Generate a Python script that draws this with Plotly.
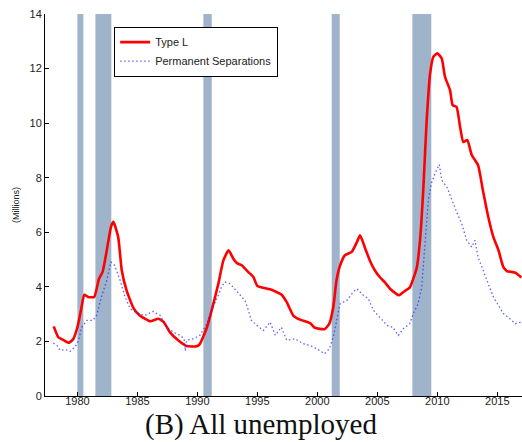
import plotly.graph_objects as go

# Type L (millions), decimal years
type_l_x = [1978.03, 1978.4, 1978.8, 1979.3, 1979.67, 1980.0, 1980.3, 1980.58, 1980.9, 1981.4,
            1981.8, 1982.1, 1982.45, 1982.8, 1983.0, 1983.4, 1983.7, 1984.1, 1984.7, 1985.2,
            1986.06, 1986.75, 1987.2, 1987.7, 1988.4, 1989.1, 1989.95, 1990.2, 1990.8, 1991.3,
            1991.75, 1992.17, 1992.6, 1993.0, 1993.3, 1993.7, 1994.25, 1994.67, 1995.0, 1995.5,
            1996.06, 1996.6, 1997.0, 1997.45, 1998.0, 1998.56, 1999.4, 1999.8, 2000.6, 2001.0,
            2001.33, 2001.6, 2001.9, 2002.3, 2002.87, 2003.3, 2003.56, 2004.0, 2004.4, 2004.8,
            2005.2, 2005.6, 2006.06, 2006.5, 2006.8, 2007.3, 2007.7, 2008.0, 2008.3, 2008.56,
            2008.83, 2009.1, 2009.4, 2009.67, 2010.0, 2010.37, 2010.64, 2011.06, 2011.28, 2011.6,
            2011.9, 2012.17, 2012.5, 2012.87, 2013.4, 2013.8, 2014.25, 2014.67, 2015.1, 2015.5,
            2015.8, 2016.5, 2017.0]
type_l_y = [2.55, 2.16, 2.06, 1.95, 2.10, 2.52, 3.14, 3.71, 3.63, 3.63,
            4.30, 4.55, 5.34, 6.20, 6.38, 5.83, 4.60, 3.87, 3.20, 2.95,
            2.74, 2.83, 2.71, 2.34, 2.04, 1.83, 1.82, 1.90, 2.52, 3.32,
            4.12, 4.97, 5.34, 5.03, 4.87, 4.79, 4.54, 4.36, 4.03, 3.97,
            3.91, 3.81, 3.72, 3.44, 2.95, 2.80, 2.67, 2.50, 2.45, 2.65,
            3.26, 4.24, 4.79, 5.16, 5.28, 5.64, 5.89, 5.40, 4.94, 4.60,
            4.36, 4.18, 3.93, 3.77, 3.69, 3.85, 3.97, 4.30, 4.73, 5.71,
            7.54, 9.99, 11.82, 12.43, 12.56, 12.37, 11.70, 11.21, 10.66, 10.60,
            9.86, 9.31, 9.38, 8.83, 8.46, 7.54, 6.56, 5.83, 5.34, 4.73,
            4.58, 4.52, 4.34]

# Permanent separations (millions)
perm_x = [1978.0, 1978.3, 1978.56, 1979.0, 1979.4, 1979.8, 1980.1, 1980.36, 1980.8, 1981.3,
          1981.6, 1982.0, 1982.45, 1982.8, 1983.1, 1983.56, 1983.97, 1984.4, 1984.95, 1985.6,
          1986.3, 1986.9, 1987.45, 1988.0, 1988.56, 1988.9, 1989.0, 1989.1, 1989.67, 1990.2,
          1990.8, 1991.3, 1991.75, 1992.0, 1992.3, 1992.7, 1993.1, 1993.56, 1993.97, 1994.25,
          1994.5, 1994.95, 1995.5, 1996.06, 1996.5, 1997.0, 1997.45, 1998.1, 1998.8, 1999.4,
          1999.95, 2000.6, 2001.0, 2001.33, 2001.67, 2001.9, 2002.45, 2003.0, 2003.3, 2003.83,
          2004.25, 2004.67, 2005.2, 2005.8, 2006.3, 2006.75, 2007.17, 2007.7, 2008.0, 2008.4,
          2008.7, 2008.9, 2009.06, 2009.25, 2009.5, 2009.8, 2010.17, 2010.37, 2010.8, 2011.2,
          2011.6, 2012.03, 2012.45, 2012.87, 2013.14, 2013.4, 2013.83, 2014.25, 2014.67, 2015.1,
          2015.5, 2015.9, 2016.5, 2017.0]
perm_y = [1.94, 1.85, 1.67, 1.70, 1.64, 1.79, 2.04, 2.52, 2.77, 2.77,
          2.95, 3.63, 4.24, 4.91, 4.79, 4.24, 3.63, 3.20, 3.04, 2.95,
          3.10, 2.95, 2.52, 2.34, 2.22, 2.10, 1.65, 2.04, 2.10, 2.22,
          2.65, 3.26, 3.69, 3.99, 4.18, 4.12, 3.93, 3.69, 3.50, 3.14,
          2.77, 2.59, 2.40, 2.71, 2.22, 2.52, 2.04, 2.10, 1.92, 1.85,
          1.73, 1.55, 1.73, 2.16, 2.89, 3.38, 3.50, 3.81, 3.93, 3.69,
          3.57, 3.14, 2.89, 2.59, 2.52, 2.22, 2.47, 2.65, 3.02, 3.38,
          3.99, 5.09, 6.19, 7.17, 7.79, 8.15, 8.48, 7.91, 7.66, 7.17,
          6.75, 6.32, 5.71, 5.46, 5.71, 5.09, 4.60, 4.12, 3.63, 3.32,
          3.02, 2.89, 2.65, 2.71]

rec_start = [1980.0, 1981.5, 1990.5, 2001.2, 2007.92]
rec_end = [1980.5, 1982.83, 1991.2, 2001.87, 2009.5]

x_ticks = [1980, 1985, 1990, 1995, 2000, 2005, 2010, 2015]
y_ticks = [0, 2, 4, 6, 8, 10, 12, 14]

fig = go.Figure()

for s, e in zip(rec_start, rec_end):
    fig.add_vrect(x0=s, x1=e, fillcolor="#9fb4cb", line_width=0, layer="below", opacity=1)

fig.add_trace(go.Scatter(x=type_l_x, y=type_l_y, mode="lines", name="Type L",
                         line=dict(color="#ff0000", width=2.6, shape="spline", smoothing=0.5)))
fig.add_trace(go.Scatter(x=perm_x, y=perm_y, mode="lines", name="Permanent Separations",
                         line=dict(color="rgba(30,30,255,0.7)", width=1.3, dash="1.5px,2.5px")))

axis_font = dict(family="Liberation Sans, Arial", size=11, color="#222")

fig.update_layout(
    width=522, height=442,
    margin=dict(l=45, r=0, t=14, b=46),
    plot_bgcolor="white", paper_bgcolor="white",
    showlegend=True,
    legend=dict(x=0.145, y=0.967, xanchor="left", yanchor="top",
                bordercolor="black", borderwidth=1, bgcolor="white",
                font=dict(family="Liberation Sans, Arial", size=11, color="#222"),
                tracegroupgap=0, itemwidth=30),
    xaxis=dict(range=[1977.3, 2017.06], tickvals=x_ticks, ticks="inside", ticklen=4,
               tickcolor="black", showline=True, linecolor="black", linewidth=1,
               showgrid=False, zeroline=False, tickfont=axis_font, mirror=False,
               ticklabelstandoff=-5),
    yaxis=dict(range=[0, 14], tickvals=y_ticks, ticks="inside", ticklen=4,
               tickcolor="black", showline=True, linecolor="black", linewidth=1,
               showgrid=False, zeroline=False, tickfont=axis_font,
               title=dict(text="(Millions)", font=dict(family="Liberation Sans, Arial", size=9, color="#222"),
                          standoff=8)),
)

fig.add_annotation(text="(B) All unemployed", xref="paper", yref="paper",
                   x=0.452, y=-0.03, xanchor="center", yanchor="top", showarrow=False,
                   borderpad=0,
                   font=dict(family="Liberation Serif, DejaVu Serif, serif", size=29, color="#111"))

fig.write_html("out.html")
